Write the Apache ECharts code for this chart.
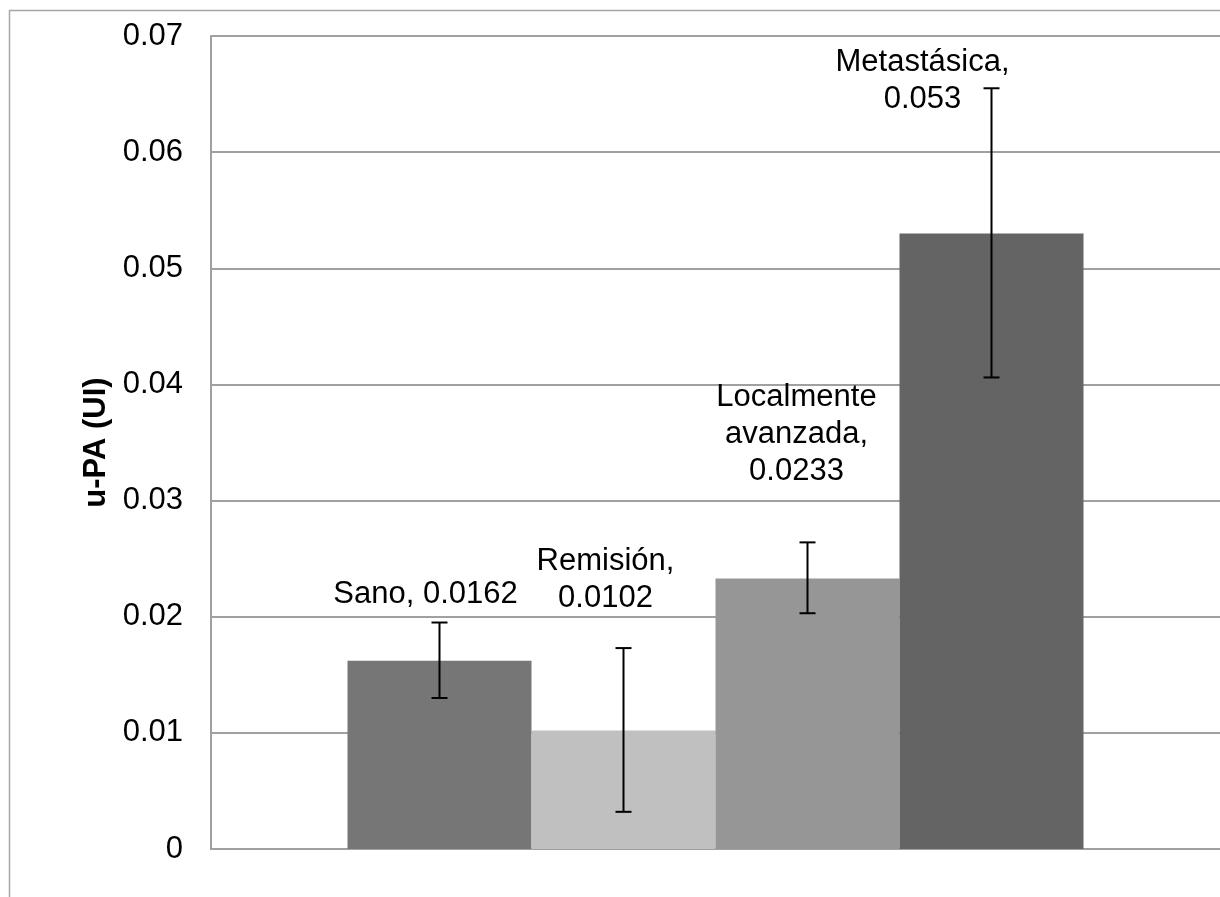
<!DOCTYPE html>
<html>
<head>
<meta charset="utf-8">
<script src="https://cdn.jsdelivr.net/npm/echarts@6/dist/echarts.min.js"></script>
<style>
html,body{margin:0;padding:0;background:#fff;}
#chart{width:1220px;height:897px;}
</style>
</head>
<body>
<div id="chart"></div>
<script>
// ---- data ----
const categories = [''];
const seriesNames = ['Sano', 'Remisión', 'Localmente\navanzada', 'Metastásica'];
const labelSeparators = [', ', ',\n', ',\n', ',\n'];
const values = [0.0162, 0.0102, 0.0233, 0.053];
const errLow = [0.0130, 0.0032, 0.0203, 0.0406];
const errHigh = [0.0195, 0.0173, 0.0264, 0.0655];
const yTicks = [0, 0.01, 0.02, 0.03, 0.04, 0.05, 0.06, 0.07];

// ---- styles ----
const colors = ['#767676', '#c0c0c0', '#969696', '#646464'];
const labelOffsets = [[-14, -43], [-18, -109], [-11, -83], [-69, -110]];
const BAR_W = 184;
const FONT = '"Liberation Sans", Arial, sans-serif';
const FS = 31;

const chart = echarts.init(document.getElementById('chart'), null, {renderer: 'canvas'});

const barSeries = seriesNames.map((name, i) => ({
  name: name,
  type: 'bar',
  barWidth: BAR_W,
  barGap: '0%',
  data: [values[i]],
  itemStyle: {color: colors[i]},
  silent: true,
  z: 2,
  label: {
    show: true,
    position: 'top',
    distance: 5,
    offset: labelOffsets[i],
    fontFamily: FONT,
    fontSize: FS,
    lineHeight: 37,
    color: '#000',
    align: 'center',
    formatter: () => name + labelSeparators[i] + values[i]
  }
}));

const errData = values.map((v, i) => [i, errLow[i], errHigh[i]]);

const errSeries = {
  type: 'custom',
  data: errData,
  z: 10,
  silent: true,
  renderItem: function (params, api) {
    const idx = api.value(0);
    const lo = api.coord([0, api.value(1)]);
    const hi = api.coord([0, api.value(2)]);
    const x = lo[0] + (idx - (values.length - 1) / 2) * BAR_W;
    const cap = 8;
    const st = {stroke: '#000', lineWidth: 2};
    return {
      type: 'group',
      children: [
        {type: 'line', shape: {x1: x, y1: hi[1], x2: x, y2: lo[1]}, style: st},
        {type: 'line', shape: {x1: x - cap, y1: hi[1], x2: x + cap, y2: hi[1]}, style: st},
        {type: 'line', shape: {x1: x - cap, y1: lo[1], x2: x + cap, y2: lo[1]}, style: st}
      ]
    };
  }
};

chart.setOption({
  animation: false,
  backgroundColor: '#fff',
  graphic: [{
    type: 'rect',
    shape: {x: 9.5, y: 10.5, width: 1400, height: 1000},
    style: {fill: 'none', stroke: '#a6a6a6', lineWidth: 1.5},
    silent: true,
    z: -10
  }],
  grid: {left: 211, right: -4, top: 36, bottom: 48, containLabel: false},
  xAxis: {
    type: 'category',
    data: categories,
    axisLine: {show: true, lineStyle: {color: '#a0a0a0', width: 2}},
    axisTick: {show: false},
    axisLabel: {show: false},
    splitLine: {show: false}
  },
  yAxis: {
    type: 'value',
    min: yTicks[0],
    max: yTicks[yTicks.length - 1],
    interval: 0.01,
    name: 'u-PA (UI)',
    nameLocation: 'middle',
    nameGap: 86,
    nameRotate: 90,
    nameTextStyle: {fontFamily: FONT, fontSize: FS, fontWeight: 'bold', color: '#000'},
    axisLine: {show: true, lineStyle: {color: '#a0a0a0', width: 2}},
    axisTick: {show: false},
    axisLabel: {
      margin: 28,
      fontFamily: FONT,
      fontSize: FS,
      color: '#000',
      formatter: v => String(parseFloat(v.toFixed(2)))
    },
    splitLine: {show: true, lineStyle: {color: '#a0a0a0', width: 2}}
  },
  series: barSeries.concat([errSeries])
});
</script>
</body>
</html>
